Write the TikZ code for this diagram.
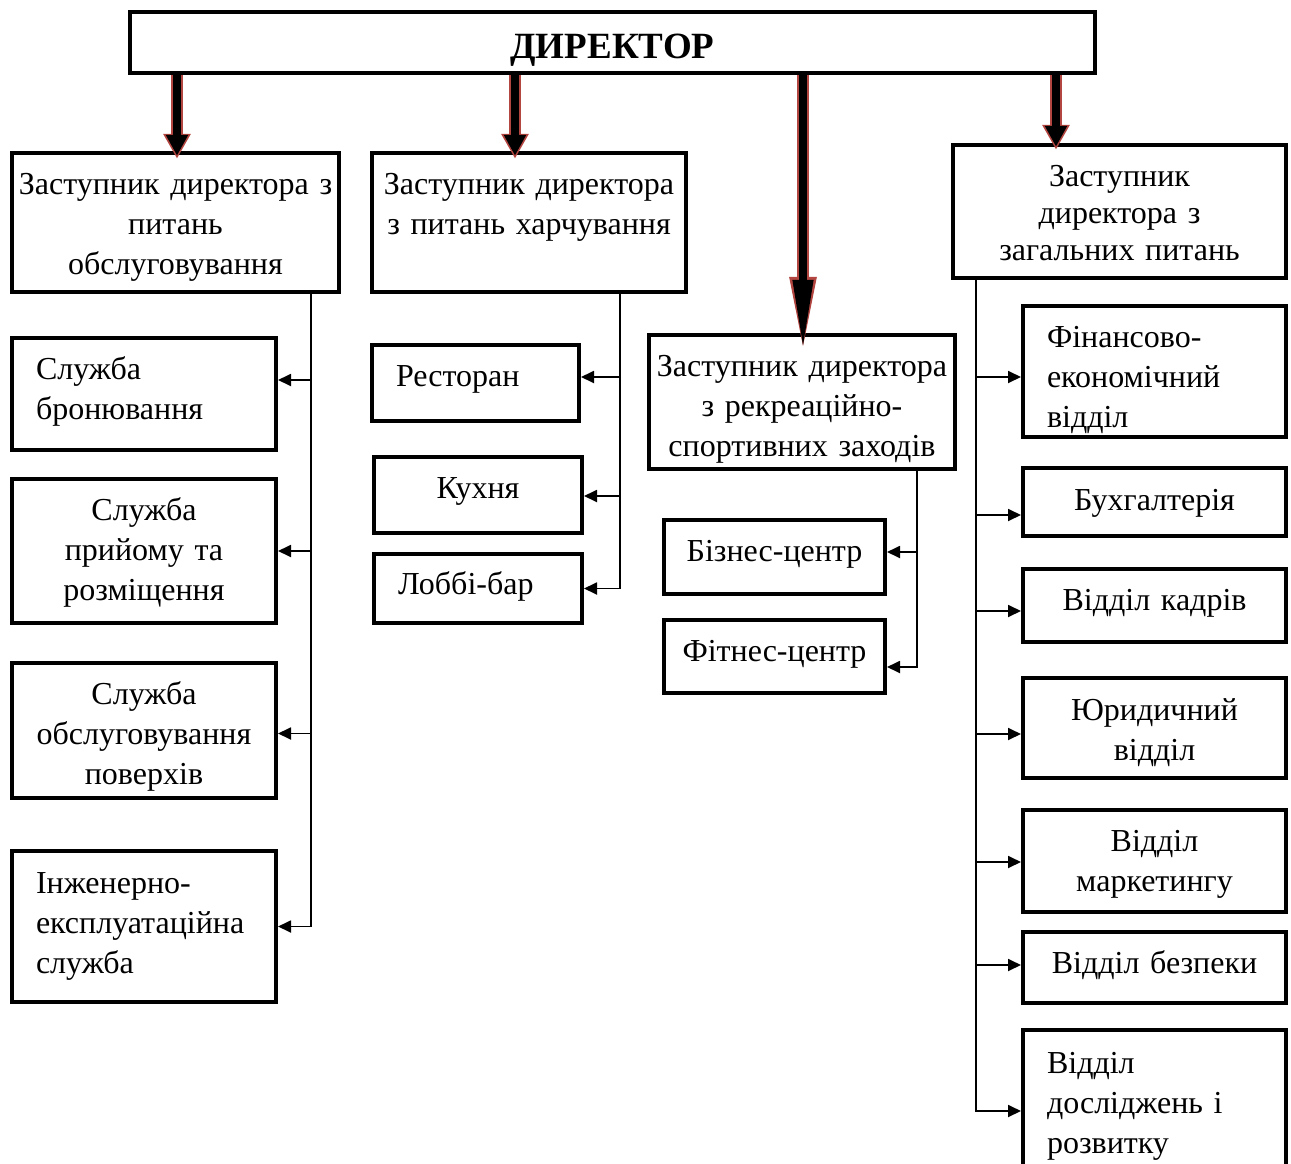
\documentclass[tikz,border=0pt]{standalone}
\usepackage{fontspec}
\setmainfont{Liberation Serif}
\usetikzlibrary{arrows.meta}
\definecolor{arrowred}{RGB}{180,70,65}
\begin{document}
\begin{tikzpicture}[x=1pt,y=-1pt,
  box/.style={draw,line width=4pt,anchor=north west,inner sep=0pt,align=center,font=\fontsize{32}{40}\selectfont},
  lbox/.style={box,align=left},
  conn/.style={line width=1.8pt,-{Triangle[length=13pt,width=12pt]}},
  bigarr/.style={line width=11.5pt,draw=arrowred,-{Triangle[length=25pt,width=26pt]},postaction={draw=black,line width=7.5pt,shorten >=3pt,-{Triangle[length=21pt,width=21pt]}}},
  longarr/.style={line width=11.5pt,draw=arrowred,-{Triangle[length=78pt,width=24pt]},postaction={draw=black,line width=7.5pt,shorten >=5pt,-{Triangle[length=70pt,width=19pt]}}}]
  \useasboundingbox (0,0) rectangle (1291,1164);
  \node[box,font=\fontsize{37}{40}\selectfont\bfseries,minimum width=965pt,text width=955pt,text height=47pt,text depth=14pt] (dir) at (128,10) {ДИРЕКТОР};
  \node[box,minimum width=327pt,text width=319pt,text height=41pt,text depth=98pt] (zam1) at (10,151) {Заступник директора з\\питань\\обслуговування};
  \node[box,minimum width=314pt,text width=306pt,text height=41pt,text depth=98pt] (zam2) at (370,151) {Заступник директора\\з питань харчування};
  \node[box,minimum width=306pt,text width=298pt,text height=41pt,text depth=93pt] (zam3) at (647,333) {Заступник директора\\з рекреаційно-\\спортивних заходів};
  \node[box,font=\fontsize{32}{37}\selectfont,minimum width=333pt,text width=325pt,text height=41pt,text depth=92pt] (zam4) at (951,143) {Заступник\\директора з\\загальних питань};
  \node[lbox,minimum width=264pt,text width=216pt,text height=41pt,text depth=71pt] (sl1) at (10,336) {Служба\\бронювання};
  \node[box,minimum width=264pt,text width=256pt,text height=41pt,text depth=103pt] (sl2) at (10,477) {Служба\\прийому та\\розміщення};
  \node[box,minimum width=264pt,text width=256pt,text height=41pt,text depth=94pt] (sl3) at (10,661) {Служба\\обслуговування\\поверхів};
  \node[lbox,minimum width=264pt,text width=216pt,text height=42pt,text depth=109pt] (sl4) at (10,849) {Інженерно-\\експлуатаційна\\служба};
  \node[lbox,minimum width=207pt,text width=159pt,text height=41pt,text depth=35pt] (rest) at (370,343) {Ресторан};
  \node[box,minimum width=208pt,text width=200pt,text height=41pt,text depth=35pt] (kukh) at (372,455) {Кухня};
  \node[lbox,minimum width=208pt,text width=160pt,text height=40pt,text depth=29pt] (lobi) at (372,552) {Лоббі-бар};
  \node[box,minimum width=221pt,text width=213pt,text height=41pt,text depth=33pt] (biz) at (662,518) {Бізнес-центр};
  \node[box,minimum width=221pt,text width=213pt,text height=41pt,text depth=32pt] (fit) at (662,618) {Фітнес-центр};
  \node[lbox,minimum width=263pt,text width=215pt,text height=41pt,text depth=90pt] (fin) at (1021,304) {Фінансово-\\економічний\\відділ};
  \node[box,minimum width=263pt,text width=255pt,text height=42pt,text depth=26pt] (bukh) at (1021,466) {Бухгалтерія};
  \node[box,minimum width=263pt,text width=255pt,text height=41pt,text depth=32pt] (kadr) at (1021,567) {Відділ кадрів};
  \node[box,minimum width=263pt,text width=255pt,text height=42pt,text depth=58pt] (yur) at (1021,676) {Юридичний\\відділ};
  \node[box,minimum width=263pt,text width=255pt,text height=41pt,text depth=61pt] (mark) at (1021,808) {Відділ\\маркетингу};
  \node[box,minimum width=263pt,text width=255pt,text height=41pt,text depth=30pt] (bezp) at (1021,930) {Відділ безпеки};
  \node[lbox,minimum width=263pt,text width=215pt,text height=43pt,text depth=119pt] (rozv) at (1021,1028) {Відділ\\досліджень і\\розвитку};
  \coordinate (b1) at (311,290); \coordinate (b2) at (620,290); \coordinate (b3) at (917,467); \coordinate (b4) at (976,276);
  \draw[conn] (b1) |- (sl4.east);
  \foreach \n/\s in {sl1/14,sl2/0,sl3/-3} \draw[conn] ([yshift=\s pt]\n.east -| b1) -- ([yshift=\s pt]\n.east);
  \draw[conn] (b2) |- (lobi.east);
  \foreach \n/\s in {rest/6,kukh/-1} \draw[conn] ([yshift=\s pt]\n.east -| b2) -- ([yshift=\s pt]\n.east);
  \draw[conn] (b3) |- ([yshift=-10.5pt]fit.east);
  \draw[conn] ([yshift=5pt]biz.east -| b3) -- ([yshift=5pt]biz.east);
  \draw[conn] (b4) |- (rozv.west);
  \foreach \n/\s in {fin/-5.5,bukh/-13,kadr/-5.5,yur/-6,mark/-1,bezp/2.5} \draw[conn] ([yshift=\s pt]\n.west -| b4) -- ([yshift=\s pt]\n.west);
  \draw[bigarr] ([xshift=1.5pt]dir.south -| zam1.north) -- ([xshift=1.5pt,yshift=-7.75pt]zam1.north);
  \draw[bigarr] ([xshift=-14pt]dir.south -| zam2.north) -- ([xshift=-14pt,yshift=-7.75pt]zam2.north);
  \draw[longarr] ([xshift=1pt]dir.south -| zam3.north) -- ([xshift=1pt,yshift=-21.75pt]zam3.north);
  \draw[bigarr] ([xshift=-63.5pt]dir.south -| zam4.north) -- ([xshift=-63.5pt,yshift=-6.75pt]zam4.north);
\end{tikzpicture}
\end{document}
